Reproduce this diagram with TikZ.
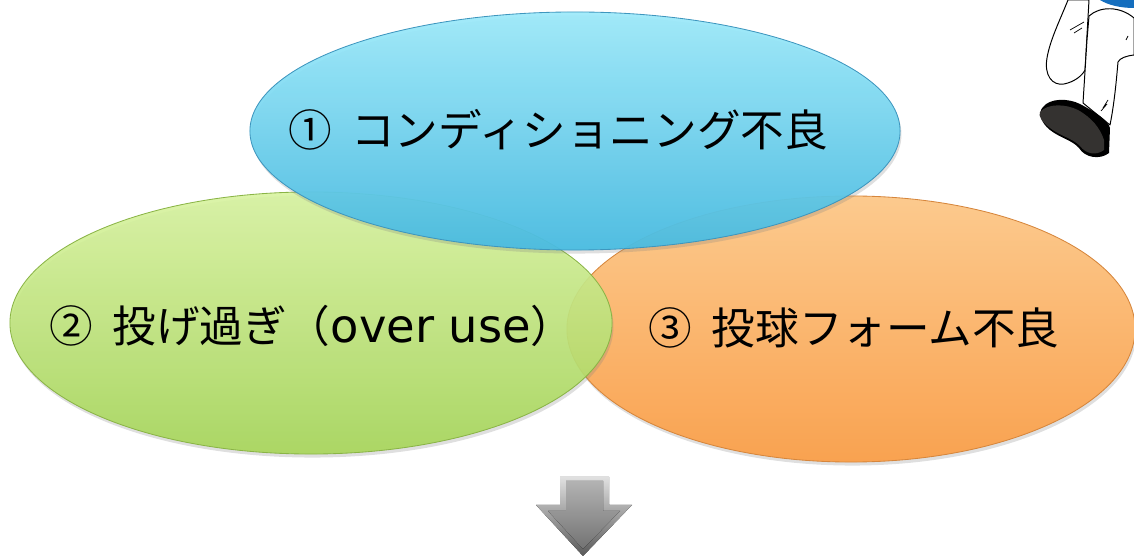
\documentclass[tikz,border=0pt]{standalone}
\usepackage{fontspec}
\setmainfont{Noto Sans CJK JP}
\newfontfamily\latinwide{DejaVu Sans}
\usepackage{tikz}
\usetikzlibrary{shapes.geometric, shadows}

\definecolor{causeBlueTop}{RGB}{158,234,250}
\definecolor{causeBlueBot}{RGB}{72,188,226}
\definecolor{causeBlueEdge}{RGB}{62,150,190}
\definecolor{causeGreenTop}{RGB}{216,243,160}
\definecolor{causeGreenBot}{RGB}{166,214,88}
\definecolor{causeGreenEdge}{RGB}{138,180,70}
\definecolor{causeOrangeTop}{RGB}{252,202,142}
\definecolor{causeOrangeBot}{RGB}{249,162,80}
\definecolor{causeOrangeEdge}{RGB}{214,134,60}
\definecolor{shoeGray}{RGB}{52,50,48}
\definecolor{capBlue}{RGB}{20,110,190}

\newcommand{\numgap}{\hspace{0.45em}}

\begin{document}
\begin{tikzpicture}[
    x=0.025cm, y=-0.025cm,
    cause/.style={ellipse, draw, line width=0.6pt, inner sep=0pt,
                  drop shadow={opacity=0.25, shadow xshift=1pt, shadow yshift=-2.5pt}},
    label/.style={font=\fontsize{31}{36}\selectfont, inner sep=0pt},
    leg/.style={draw=black, line width=0.7pt, fill=white, line join=round}
]
\useasboundingbox (0,0) rectangle (1134,556);

% --- Three causes (back to front) ---
\node[cause, draw=causeOrangeEdge, top color=causeOrangeTop, bottom color=causeOrangeBot,
      minimum width=14.2cm, minimum height=6.65cm] (form) at (851,329) {};
\node[cause, draw=causeGreenEdge, top color=causeGreenTop, bottom color=causeGreenBot,
      fill opacity=0.9, minimum width=15.05cm, minimum height=6.55cm] (overuse) at (311,323) {};
\node[cause, draw=causeBlueEdge, top color=causeBlueTop, bottom color=causeBlueBot,
      fill opacity=0.94, minimum width=16.25cm, minimum height=5.95cm] (cond) at (575,131) {};

% labels
\node[label] (condtxt) at (558,130) {①\numgap コンディショニング不良};
\node[label] (overtxt) at (312,326) {②\numgap 投げ過ぎ（{\latinwide\fontsize{33}{36}\selectfont over use}）};
\node[label] (formtxt) at (854,328) {③\numgap 投球フォーム不良};

% --- Down arrow ---
\fill[top color=black!12, bottom color=black!65]
    (560,477) -- (609,477) -- (609,505) -- (632,505) -- (583,556)
    -- (536,505) -- (560,505) -- cycle;
\fill[top color=black!30, bottom color=black!55]
    (566,481) -- (603,481) -- (603,511) -- (620,511) -- (583,549)
    -- (548,511) -- (566,511) -- cycle;

% --- Pitcher's leg (top right) ---
\fill[capBlue] (1100,0) -- (1134,0) -- (1134,8) .. controls (1120,8) and (1108,5) .. (1100,0) -- cycle;
\path[leg] (1068,0) .. controls (1060,20) and (1050,40) .. (1047,58)
    .. controls (1044,75) and (1052,86) .. (1064,84)
    .. controls (1074,82) and (1082,76) .. (1085,70) -- (1089,0) -- cycle;
\path[leg] (1089,16) .. controls (1100,6) and (1120,6) .. (1134,18)
    -- (1134,55) .. controls (1126,56) and (1120,58) .. (1118,62)
    .. controls (1116,85) and (1114,105) .. (1110,125)
    -- (1083,103) -- (1087,40) -- cycle;
\draw[line width=0.5pt] (1070,30) -- (1084,22) (1074,33) -- (1082,28)
    (1126,40) -- (1128,36) (1103,108) -- (1108,100) (1101,111) -- (1107,104);
\fill[black] (1043,107) .. controls (1050,98) and (1068,98) .. (1080,104)
    .. controls (1095,112) and (1108,120) .. (1110,128)
    -- (1109,153) .. controls (1100,160) and (1085,158) .. (1079,148)
    .. controls (1072,140) and (1060,138) .. (1050,130)
    .. controls (1040,122) and (1038,112) .. (1043,107) -- cycle;
\fill[shoeGray] (1040,112) .. controls (1048,103) and (1066,104) .. (1078,110)
    .. controls (1092,118) and (1100,128) .. (1104,140)
    -- (1104,150) .. controls (1096,156) and (1086,154) .. (1080,146)
    .. controls (1072,138) and (1060,136) .. (1050,128)
    .. controls (1042,122) and (1038,116) .. (1040,112) -- cycle;

\end{tikzpicture}
\end{document}
